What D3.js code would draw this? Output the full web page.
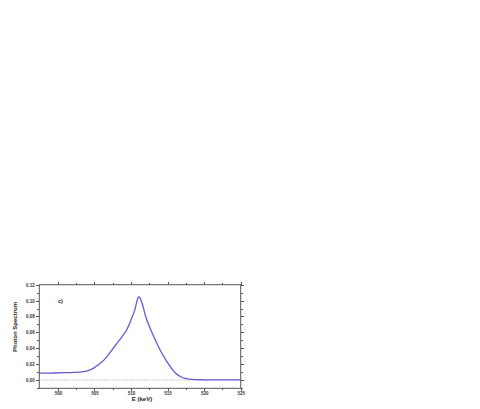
<!DOCTYPE html>
<html lang="en">
<head>
<meta charset="utf-8">
<title>Photon Spectrum c)</title>
<script src="https://d3js.org/d3.v7.min.js"></script>
<style>
body { margin: 0; background: #fff; }
svg { display: block; font-family: "Liberation Sans", Arial, sans-serif; font-weight: bold; }
.axis path, .axis line { stroke: #555; stroke-width: 1px; shape-rendering: crispEdges; }
.axis text { font-size: 4.5px; fill: #333; font-weight: bold; }
.zero { stroke: #888; stroke-width: 0.8px; stroke-dasharray: 1 1.5; }
.spec { fill: none; stroke: #6a58d2; stroke-width: 1.3px; }
</style>
</head>
<body>
<script>

// energy (keV) and photon spectrum values
var energy   = [497.5, 499, 501, 503, 504, 504.5, 505, 505.5, 506, 506.7, 507.4, 508.1, 508.8, 509.4, 510.1, 510.5, 510.8, 511.0, 511.2, 511.5, 512.0, 512.6, 513.3, 514.2, 515.2, 516.1, 516.8, 517.4, 518.8, 520, 522, 525];
var spectrum = [0.0085, 0.0087, 0.0092, 0.0100, 0.0115, 0.013, 0.0155, 0.019, 0.0225, 0.0295, 0.038, 0.0465, 0.055, 0.063, 0.078, 0.088, 0.099, 0.1045, 0.1035, 0.097, 0.080, 0.0655, 0.0507, 0.034, 0.019, 0.0085, 0.004, 0.002, 0.0005, 0.0002, 0.0, 0.0];

var xTicks = [500, 505, 510, 515, 520, 525];
var xMinor = [502.5, 507.5, 512.5, 517.5, 522.5];
var yTicks = [0.00, 0.02, 0.04, 0.06, 0.08, 0.10, 0.12];
var yMinor = [-0.01, 0.01, 0.03, 0.05, 0.07, 0.09, 0.11];

var margin = {top: 284.7, left: 39.3},
    width = 201.4,
    height = 103.6;

var svg = d3.select("body").append("svg")
    .attr("width", 480)
    .attr("height", 409);

var g = svg.append("g")
    .attr("transform", "translate(" + margin.left + "," + margin.top + ")");

var x = d3.scaleLinear().domain([497.45, 525]).range([0, width]);
var y = d3.scaleLinear().domain([-0.0105, 0.12]).range([height, 0]);

// frame
g.append("rect")
    .attr("width", width)
    .attr("height", height)
    .attr("fill", "none")
    .attr("stroke", "#555")
    .attr("stroke-width", 1);

// zero line
g.append("line")
    .attr("class", "zero")
    .attr("x1", 0).attr("x2", width)
    .attr("y1", y(0)).attr("y2", y(0));

// bottom axis with labels
g.append("g")
    .attr("class", "axis")
    .attr("transform", "translate(0," + height + ")")
    .call(d3.axisBottom(x).tickValues(xTicks).tickSize(3).tickPadding(1).tickFormat(d3.format("d")))
    .call(function(a) { a.select(".domain").remove(); });
g.append("g")
    .attr("class", "axis")
    .attr("transform", "translate(0," + height + ")")
    .call(d3.axisBottom(x).tickValues(xMinor).tickSize(2).tickFormat(""))
    .call(function(a) { a.select(".domain").remove(); });

// top axis, ticks only
g.append("g")
    .attr("class", "axis")
    .call(d3.axisTop(x).tickValues(xTicks).tickSize(3).tickFormat(""))
    .call(function(a) { a.select(".domain").remove(); });
g.append("g")
    .attr("class", "axis")
    .call(d3.axisTop(x).tickValues(xMinor).tickSize(2).tickFormat(""))
    .call(function(a) { a.select(".domain").remove(); });

// left axis with labels
g.append("g")
    .attr("class", "axis")
    .call(d3.axisLeft(y).tickValues(yTicks).tickSize(3).tickPadding(1.5).tickFormat(d3.format(".2f")))
    .call(function(a) { a.select(".domain").remove(); });
g.append("g")
    .attr("class", "axis")
    .call(d3.axisLeft(y).tickValues(yMinor).tickSize(2).tickFormat(""))
    .call(function(a) { a.select(".domain").remove(); });

// right axis, ticks only
g.append("g")
    .attr("class", "axis")
    .attr("transform", "translate(" + width + ",0)")
    .call(d3.axisRight(y).tickValues(yTicks).tickSize(3).tickFormat(""))
    .call(function(a) { a.select(".domain").remove(); });
g.append("g")
    .attr("class", "axis")
    .attr("transform", "translate(" + width + ",0)")
    .call(d3.axisRight(y).tickValues(yMinor).tickSize(2).tickFormat(""))
    .call(function(a) { a.select(".domain").remove(); });

// spectrum curve
var line = d3.line()
    .x(function(d, i) { return x(energy[i]); })
    .y(function(d) { return y(d); })
    .curve(d3.curveMonotoneX);

g.append("path")
    .datum(spectrum)
    .attr("class", "spec")
    .attr("d", line);

// panel label
g.append("text")
    .attr("x", x(500))
    .attr("y", y(0.1) + 2)
    .style("font-size", "5.5px")
    .attr("fill", "#222")
    .text("c)");

// axis titles
g.append("text")
    .attr("x", x(511.5))
    .attr("y", height + 13)
    .style("text-anchor", "middle")
    .style("font-size", "6px")
    .attr("fill", "#222")
    .text("E (keV)");

g.append("text")
    .attr("transform", "rotate(-90)")
    .attr("x", -(327 - margin.top))
    .attr("y", 15 - margin.left + 2)
    .style("text-anchor", "middle")
    .style("font-size", "6px")
    .attr("fill", "#222")
    .text("Photon Spectrum");

</script>
</body>
</html>
